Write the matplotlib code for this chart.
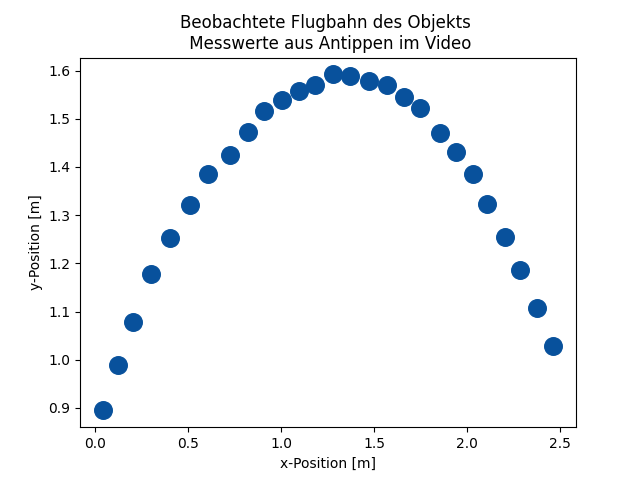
import matplotlib
matplotlib.use("Agg")
import matplotlib.pyplot as plt

x_pos = [0.040, 0.124, 0.204, 0.301, 0.403, 0.511, 0.608, 0.726, 0.823, 0.909,
         1.005, 1.097, 1.183, 1.280, 1.371, 1.473, 1.570, 1.661, 1.747, 1.855,
         1.941, 2.032, 2.108, 2.204, 2.285, 2.376, 2.465]
y_pos = [0.895, 0.990, 1.079, 1.177, 1.252, 1.321, 1.386, 1.425, 1.472, 1.517,
         1.539, 1.558, 1.570, 1.592, 1.588, 1.578, 1.569, 1.546, 1.523, 1.470,
         1.431, 1.386, 1.323, 1.254, 1.186, 1.108, 1.029]

fig, ax = plt.subplots(figsize=(6.4, 4.8), dpi=100)
ax.scatter(x_pos, y_pos, s=160, color="#08519c")
ax.set_title("Beobachtete Flugbahn des Objekts \n Messwerte aus Antippen im Video")
ax.set_xlabel("x-Position [m]")
ax.set_ylabel("y-Position [m]")
fig.savefig("out.png", dpi=100)
